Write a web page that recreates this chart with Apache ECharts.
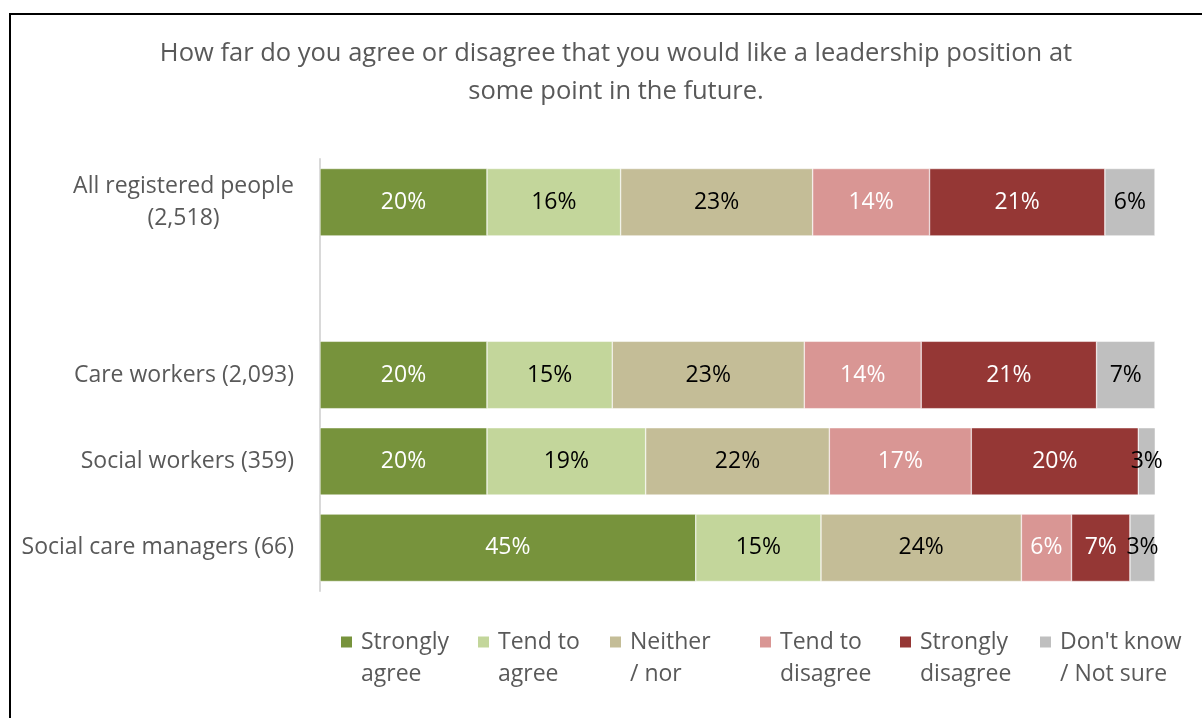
<!DOCTYPE html>
<html>
<head>
<meta charset="utf-8">
<script src="https://cdn.jsdelivr.net/npm/echarts@6/dist/echarts.min.js"></script>
<style>
  html, body { margin: 0; padding: 0; background: #fff; }
  #chart { width: 1202px; height: 718px; }
</style>
</head>
<body>
<div id="chart"></div>
<script>
// Survey groups (the empty entry leaves a gap after the first row)
const groups = [
  'All registered people\n(2,518)',
  '',
  'Care workers (2,093)',
  'Social workers (359)',
  'Social care managers (66)'
];

const responses = [
  'Strongly agree',
  'Tend to agree',
  'Neither / nor',
  'Tend to disagree',
  'Strongly disagree',
  "Don't know / Not sure"
];

// Two-line legend wording
const legendText = [
  'Strongly\nagree',
  'Tend to\nagree',
  'Neither\n/ nor',
  'Tend to\ndisagree',
  'Strongly\ndisagree',
  "Don't know\n/ Not sure"
];

// Percentages per response, one value per group
const stronglyAgree    = [20, null, 20, 20, 45];
const tendToAgree      = [16, null, 15, 19, 15];
const neitherNor       = [23, null, 23, 22, 24];
const tendToDisagree   = [14, null, 14, 17, 6];
const stronglyDisagree = [21, null, 21, 20, 7];
const dontKnow         = [6,  null, 7,  3,  3];

const values = [stronglyAgree, tendToAgree, neitherNor, tendToDisagree, stronglyDisagree, dontKnow];
const colors = ['#77933C', '#C3D69B', '#C4BD97', '#D99694', '#953735', '#BFBFBF'];
const labelColors = ['#ffffff', '#000000', '#000000', '#ffffff', '#ffffff', '#000000'];
const legendLeft = [339, 476, 608, 758, 898, 1038];

const FONT = '"Open Sans", sans-serif';
const AXIS_SIZE = 23;

// Width of the widest line, used to centre the lines of a wrapped axis label
function lineWidth(text, size) {
  const ctx = document.createElement('canvas').getContext('2d');
  ctx.font = size + 'px ' + FONT;
  return Math.ceil(Math.max.apply(null, text.split('\n').map(t => ctx.measureText(t).width)));
}
const wrapWidth = lineWidth(groups[0], AXIS_SIZE);

// Square legend marker sitting level with the first text line,
// with a little blank room on its right before the text
const LEGEND_LINE = 32;
const MARK = 13;
const MARK_BOX = 16;
const markerPath = 'path://M0,0H' + MARK + 'V' + MARK + 'H0Z M' + MARK_BOX + ',' +
  (MARK + LEGEND_LINE) + 'H' + (MARK_BOX - 0.01);

const chart = echarts.init(document.getElementById('chart'), null, { renderer: 'canvas' });

const option = {
  backgroundColor: '#ffffff',
  animation: false,
  title: {
    text: 'How far do you agree or disagree that you would like a leadership position at\nsome point in the future.',
    left: 611,
    top: 30,
    textAlign: 'center',
    textStyle: {
      fontFamily: FONT,
      fontSize: 25.5,
      fontWeight: 'normal',
      color: '#595959',
      lineHeight: 38
    }
  },
  graphic: [{
    type: 'rect',
    silent: true,
    shape: { x: 10, y: 14, width: 1300, height: 800 },
    style: { fill: 'none', stroke: '#000000', lineWidth: 2 }
  }],
  legend: responses.map((name, i) => ({
    data: [name],
    left: legendLeft[i],
    top: 626,
    icon: markerPath,
    itemWidth: MARK_BOX,
    itemHeight: MARK + LEGEND_LINE,
    itemGap: 0,
    padding: 0,
    selectedMode: false,
    formatter: () => legendText[i],
    textStyle: {
      fontFamily: FONT,
      fontSize: 23,
      color: '#595959',
      lineHeight: LEGEND_LINE
    }
  })),
  grid: {
    left: 320,
    right: 47,
    top: 159,
    height: 432,
    containLabel: false
  },
  xAxis: {
    type: 'value',
    min: 0,
    max: 100,
    show: false
  },
  yAxis: {
    type: 'category',
    data: groups,
    inverse: true,
    axisLine: { show: true, lineStyle: { color: '#D9D9D9', width: 2 } },
    axisTick: { show: false },
    axisLabel: {
      margin: 26,
      fontFamily: FONT,
      fontSize: AXIS_SIZE,
      color: '#595959',
      lineHeight: 32,
      align: 'right',
      formatter: v => v.indexOf('\n') < 0 ? v
        : v.split('\n').map(t => '{c|' + t + '}').join('\n'),
      rich: {
        c: {
          width: wrapWidth,
          align: 'center',
          fontFamily: FONT,
          fontSize: AXIS_SIZE,
          color: '#595959',
          lineHeight: 32
        }
      }
    },
    splitLine: { show: false }
  },
  series: responses.map((name, i) => ({
    name: name,
    type: 'bar',
    stack: 'total',
    barCategoryGap: '22%',
    clip: true,
    data: values[i],
    itemStyle: { color: colors[i], borderColor: '#ffffff', borderWidth: 0.5 },
    label: {
      show: true,
      position: 'inside',
      formatter: p => (p.value == null ? '' : p.value + '%'),
      fontFamily: FONT,
      fontSize: 23,
      color: labelColors[i]
    }
  }))
};

chart.setOption(option);
</script>
</body>
</html>
